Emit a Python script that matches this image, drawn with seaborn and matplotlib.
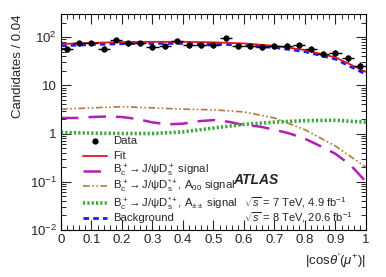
import numpy as np
import pandas as pd
import matplotlib
matplotlib.use("Agg")
import matplotlib.pyplot as plt
import seaborn as sns

# Data points (bin centres, 0.04 wide bins)
bin_centres = np.arange(0.02, 1.0, 0.04)
counts = [56, 74, 76, 58, 88, 74, 74, 63, 64, 83, 68, 69, 68,
          94, 65, 65, 62, 66, 66, 68, 56, 45, 47, 37, 25]

# Curves
x_fit = [0.0, 0.1, 0.2, 0.3, 0.4, 0.5, 0.6, 0.7, 0.8, 0.9, 1.0]
fit = [72, 76, 79, 80, 80, 78, 74, 66, 54, 38, 19]
background = [66, 70, 73, 74, 74, 72, 68, 61, 50, 35, 17]
a00 = [3.2, 3.4, 3.6, 3.4, 3.2, 3.1, 2.8, 2.1, 1.2, 0.55, 0.2]
app = [1.05, 1.02, 1.0, 1.0, 1.08, 1.3, 1.55, 1.72, 1.85, 1.88, 1.72]

x_sig = [0.0, 0.05, 0.1, 0.15, 0.2, 0.25, 0.3, 0.35, 0.4, 0.45, 0.5,
         0.55, 0.6, 0.65, 0.7, 0.75, 0.8, 0.85, 0.9, 0.95, 1.0]
ds_sig = [2.1, 2.1, 2.2, 2.25, 2.2, 2.0, 1.7, 1.55, 1.6, 1.8, 1.9,
          1.75, 1.5, 1.4, 1.2, 1.0, 0.78, 0.55, 0.38, 0.22, 0.1]

sns.set_theme(style="ticks")
plt.rcParams['font.family'] = ['Liberation Sans', 'DejaVu Sans']
plt.rcParams['mathtext.fontset'] = 'custom'
plt.rcParams['mathtext.rm'] = 'Liberation Sans'
plt.rcParams['mathtext.it'] = 'Liberation Sans:italic'
plt.rcParams['mathtext.bf'] = 'Liberation Sans:bold'

fig = plt.figure(figsize=(3.86, 2.77), dpi=100)
ax = fig.add_axes([0.158, 0.170, 0.790, 0.779])

c_red = '#e8141c'
c_purple = '#b21fb4'
c_brown = '#b5773a'
c_green = '#3fa53f'
c_blue = '#1a1aff'

styles = {
    'fit': dict(color=c_red, lw=1.3, dashes=[]),
    'sig': dict(color=c_purple, lw=1.8, dashes=[7, 4]),
    'a00': dict(color=c_brown, lw=1.2, dashes=[4, 1.5, 1, 1.5, 1, 1.5]),
    'app': dict(color=c_green, lw=2.6, dashes=[0.6, 0.6]),
    'bkg': dict(color=c_blue, lw=2.0, dashes=[2, 1.5]),
}


def draw_curve(x, y, st):
    sns.lineplot(x=x, y=y, ax=ax, color=st['color'], lw=st['lw'])
    if st['dashes']:
        ax.lines[-1].set_dashes(st['dashes'])


draw_curve(x_sig, ds_sig, styles['sig'])
draw_curve(x_fit, a00, styles['a00'])
draw_curve(x_fit, app, styles['app'])
draw_curve(x_fit, background, styles['bkg'])
draw_curve(x_fit, fit, styles['fit'])

yerr = np.sqrt(counts)
ax.errorbar(bin_centres, counts, xerr=0.02, yerr=yerr, fmt='o', color='black',
            ms=3.5, elinewidth=1.0, capsize=0, zorder=5)

ax.set_yscale('log')
ax.set_xlim(0, 1)
ax.set_ylim(1e-2, 300)
ax.set_xticks(np.arange(0, 1.01, 0.1))
ax.set_xticklabels(['0', '0.1', '0.2', '0.3', '0.4', '0.5', '0.6', '0.7', '0.8', '0.9', '1'])
ax.set_xticks(np.arange(0, 1.001, 0.02), minor=True)
ax.set_yticks([1e-2, 1e-1, 1, 10, 100])
ax.set_yticklabels([r'$10^{-2}$', r'$10^{-1}$', '1', '10', r'$10^{2}$'])
ax.tick_params(which='both', direction='in', top=True, right=True, labelsize=9.5, pad=3)
ax.tick_params(which='major', length=7, width=0.8)
ax.tick_params(which='minor', length=3.5, width=0.7)
for s in ax.spines.values():
    s.set_linewidth(0.8)
    s.set_color('black')

ax.set_ylabel('Candidates / 0.04', fontsize=9.5, loc='top')
ax.set_xlabel(r"$|\mathrm{cos}\theta'(\mu^{+})|$", fontsize=9.5, loc='right')

# legend rows drawn by hand (ROOT-style tight spacing)
legend_rows = [
    ('data', 'Data'),
    ('fit', 'Fit'),
    ('sig', r'$\mathrm{B_c^+\!\to J/\psi D_s^+}$ signal'),
    ('a00', r'$\mathrm{B_c^+\!\to J/\psi D_s^{*+}}$, $\mathrm{A_{00}}$ signal'),
    ('app', r'$\mathrm{B_c^+\!\to J/\psi D_s^{*+}}$, $\mathrm{A_{\pm\pm}}$ signal'),
    ('bkg', 'Background'),
]
row_y = [0.410, 0.342, 0.274, 0.204, 0.124, 0.057]
for (key, label), yy in zip(legend_rows, row_y):
    if key == 'data':
        ax.plot([0.111], [yy], 'o', color='black', ms=3.5, transform=ax.transAxes)
    else:
        st = styles[key]
        ln, = ax.plot([0.072, 0.151], [yy, yy], color=st['color'], lw=st['lw'],
                      transform=ax.transAxes)
        if st['dashes']:
            ln.set_dashes(st['dashes'])
    ax.text(0.170, yy, label, transform=ax.transAxes, fontsize=8.2, va='center')

ax.text(0.565, 0.23, 'ATLAS', transform=ax.transAxes, fontsize=10,
        fontweight='bold', fontstyle='italic', va='center')
ax.text(0.60, 0.125, r'$\sqrt{s}$ = 7 TeV, 4.9 fb$^{-1}$', transform=ax.transAxes,
        fontsize=8, va='center')
ax.text(0.60, 0.055, r'$\sqrt{s}$ = 8 TeV, 20.6 fb$^{-1}$', transform=ax.transAxes,
        fontsize=8, va='center')

fig.savefig('out.png', dpi=100)
